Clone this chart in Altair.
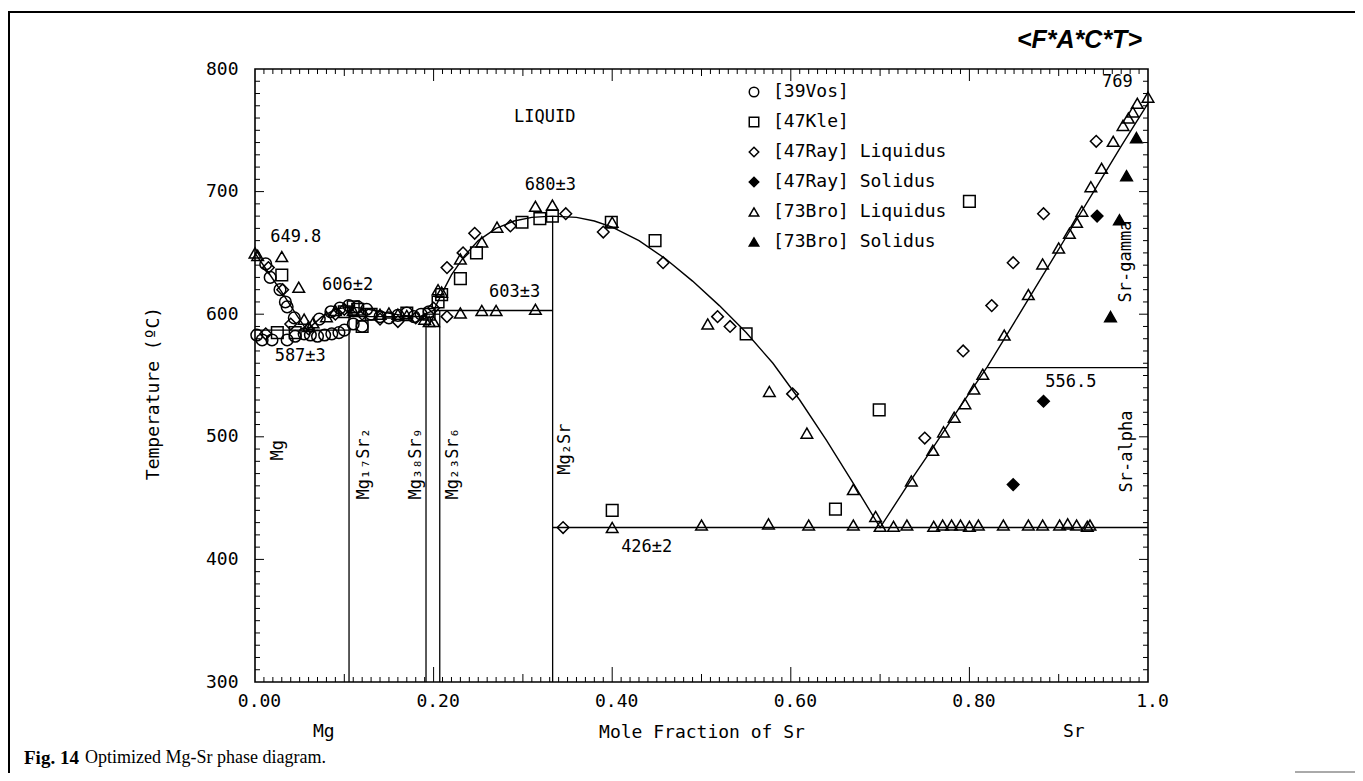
import altair as alt
import pandas as pd

W, H = 893, 613
MONO = "DejaVu Sans Mono"

# ---------------- data series ----------------
SERIES = ["[39Vos]", "[47Kle]", "[47Ray] Liquidus", "[47Ray] Solidus",
          "[73Bro] Liquidus", "[73Bro] Solidus"]
SHAPES = ["circle", "square", "diamond", "diamond", "triangle-up", "triangle-up"]
FILLS = ["transparent", "transparent", "transparent", "black", "transparent", "black"]
STROKES = ["black"] * 6

VOS_X = [0.002, 0.008, 0.019, 0.036, 0.045, 0.055, 0.062, 0.070, 0.078, 0.086, 0.094, 0.100,
         0.012, 0.017, 0.028, 0.034, 0.036, 0.044,
         0.072, 0.085, 0.095, 0.105, 0.115, 0.125, 0.130, 0.140, 0.150, 0.160, 0.170,
         0.178, 0.186, 0.195, 0.110, 0.120]
VOS_T = [583, 579, 579, 579, 582, 584, 583, 582, 583, 584, 585, 587,
         641, 630, 620, 610, 606, 597,
         596, 602, 605, 607, 606, 604, 600, 598, 597, 599, 601,
         598, 600, 602, 592, 590]

KLE_X = [0.030, 0.025, 0.045, 0.100, 0.110, 0.115, 0.120, 0.130, 0.170, 0.195, 0.205, 0.209,
         0.230, 0.248, 0.299, 0.319, 0.333, 0.399, 0.448, 0.400, 0.550, 0.650, 0.699, 0.800]
KLE_T = [632, 585, 585, 602, 606, 604, 590, 600, 601, 600, 610, 616,
         629, 650, 675, 678, 680, 675, 660, 440, 584, 441, 522, 692]

RAYL_X = [0.015, 0.031, 0.012, 0.040, 0.060, 0.090, 0.100, 0.120, 0.140, 0.160, 0.180, 0.200,
          0.215, 0.215, 0.233, 0.246, 0.286, 0.348, 0.390, 0.457, 0.518, 0.532, 0.602,
          0.750, 0.793, 0.825, 0.849, 0.883, 0.942, 0.345]
RAYL_T = [638, 620, 584, 592, 588, 600, 604, 600, 596, 594, 597, 605,
          598, 638, 650, 666, 672, 682, 667, 642, 598, 590, 535,
          499, 570, 607, 642, 682, 741, 426]

RAYS_X = [0.849, 0.883, 0.943]
RAYS_T = [461, 529, 680]

BROL_X = [0.000, 0.003, 0.030, 0.049, 0.055, 0.060, 0.065, 0.080, 0.090, 0.110, 0.140, 0.150,
          0.160, 0.170, 0.190, 0.195, 0.200, 0.205, 0.209, 0.230, 0.254, 0.270, 0.314,
          0.230, 0.254, 0.271, 0.314, 0.333, 0.400, 0.507, 0.576, 0.618, 0.670, 0.695,
          0.735, 0.759, 0.771, 0.783, 0.795, 0.805, 0.815, 0.839, 0.866, 0.882, 0.900,
          0.912, 0.920, 0.926, 0.936, 0.948, 0.961, 0.972, 0.978, 0.983, 0.988, 1.000,
          0.400, 0.500, 0.575, 0.620, 0.670, 0.700, 0.715, 0.730, 0.760, 0.770, 0.780,
          0.790, 0.800, 0.810, 0.838, 0.866, 0.882, 0.901, 0.910, 0.920, 0.932, 0.935]
BROL_T = [650, 648, 647, 622, 596, 590, 593, 598, 603, 603, 600, 601,
          600, 599, 596, 594, 594, 620, 618, 601, 603, 603, 604,
          645, 659, 671, 688, 689, 675, 592, 537, 503, 457, 435,
          464, 489, 504, 516, 527, 539, 551, 583, 616, 641, 654,
          666, 675, 684, 704, 719, 741, 754, 760, 765, 772, 777,
          426, 428, 429, 428, 428, 427, 427, 428, 427, 428, 428,
          428, 427, 428, 428, 428, 428, 428, 429, 428, 427, 428]

BROS_X = [0.958, 0.968, 0.976, 0.987]
BROS_T = [598, 677, 713, 744]

# calculated liquidus
LIQ_X = [0.000, 0.015, 0.030, 0.045, 0.058, 0.075, 0.090, 0.1053, 0.120, 0.140, 0.165, 0.185,
         0.190, 0.200, 0.210, 0.220, 0.235, 0.250, 0.270, 0.290, 0.310, 0.333, 0.360, 0.380,
         0.400, 0.430, 0.460, 0.490, 0.520, 0.550, 0.580, 0.610, 0.640, 0.670, 0.700,
         0.733, 0.760, 0.790, 0.820, 0.850, 0.880, 0.910, 0.940, 0.970, 1.000]
LIQ_T = [649.8, 634, 618, 601, 587, 598, 604, 606, 605, 602, 599, 598,
         600, 603, 618, 632, 648, 660, 670, 676, 679, 680, 679, 676,
         671, 660, 645, 627, 607, 585, 560, 530, 497, 462, 426,
         463, 492, 525, 557, 593, 629, 665, 701, 737, 772]

# invariant lines
ISO_X1 = [0.0, 0.1053, 0.190, 0.200, 0.3333, 0.820]
ISO_X2 = [0.1053, 0.1915, 0.2069, 0.3333, 1.0, 1.0]
ISO_T = [587, 598, 600, 603, 426, 556.5]

# compounds
COMP_X = [0.1053, 0.1915, 0.2069, 0.3333]
COMP_T = [606, 600, 603, 680]
COMP_BASE = [300, 300, 300, 300]

# annotations
ANN_TEXT = ["LIQUID", "649.8", "606\u00b12", "587\u00b13", "680\u00b13", "603\u00b13", "426\u00b12", "556.5"]
ANN_X = [0.290, 0.017, 0.075, 0.022, 0.302, 0.262, 0.410, 0.885]
ANN_T = [761, 663, 624, 566, 705, 618, 410, 545]
RANN_TEXT = ["769"]
RANN_X = [0.983]
RANN_T = [789]

VTXT = ["Mg", "Mg\u2081\u2087Sr\u2082", "Mg\u2083\u2088Sr\u2089", "Mg\u2082\u2083Sr\u2086",
        "Mg\u2082Sr", "Sr-gamma", "Sr-alpha"]
VX = [0.026, 0.122, 0.180, 0.222, 0.347, 0.975, 0.976]
VT = [489, 478, 478, 478, 490, 643, 488]

BOTTOM_TEXT = ["Mg", "Sr"]
BOTTOM_X = [0.077, 0.917]

X_TICKS = [0.0, 0.2, 0.4, 0.6, 0.8, 1.0]
Y_TICKS = [300, 400, 500, 600, 700, 800]

# ---------------- build tables ----------------
rows = []
for name, xs_, ts_ in zip(SERIES, [VOS_X, KLE_X, RAYL_X, RAYS_X, BROL_X, BROS_X],
                          [VOS_T, KLE_T, RAYL_T, RAYS_T, BROL_T, BROS_T]):
    for a, b in zip(xs_, ts_):
        rows.append({"x": a, "T": b, "series": name})
pts = pd.DataFrame(rows)

liq = pd.DataFrame({"x": LIQ_X, "T": LIQ_T, "i": range(len(LIQ_X))})
iso = pd.DataFrame({"x1": ISO_X1, "x2": ISO_X2, "T": ISO_T})
comp = pd.DataFrame({"x": COMP_X, "t1": COMP_BASE, "t2": COMP_T})
ann = pd.DataFrame({"x": ANN_X, "T": ANN_T, "txt": ANN_TEXT})
rann = pd.DataFrame({"x": RANN_X, "T": RANN_T, "txt": RANN_TEXT})
vlab = pd.DataFrame({"x": VX, "T": VT, "txt": VTXT})
blab = pd.DataFrame({"x": BOTTOM_X, "txt": BOTTOM_TEXT})

xs = alt.Scale(domain=[0, 1], nice=False, zero=False)
ys = alt.Scale(domain=[300, 800], nice=False, zero=False)


def X(f):
    return alt.X(f, type="quantitative", scale=xs)


def Y(f):
    return alt.Y(f, type="quantitative", scale=ys)


x_axis = alt.Axis(values=X_TICKS,
                  labelExpr="datum.value == 1 ? '1.0' : format(datum.value, '.2f')",
                  title="Mole Fraction of Sr", titleFont=MONO, titleFontSize=18,
                  titleFontWeight="normal", titleY=50, titleBaseline="middle",
                  titleColor="black",
                  labelFont=MONO, labelFontSize=18, labelColor="black", labelPadding=10,
                  labelOffset=4, labelFlush=False, labelOverlap=False,
                  ticks=False, tickSize=0, domain=False, grid=False)
y_axis = alt.Axis(values=Y_TICKS, title="Temperature  (\u00baC)", titleFont=MONO,
                  titleFontSize=18, titleFontWeight="normal", titleAngle=270,
                  titleX=-102, titleY=324, titleAlign="center", titleBaseline="middle",
                  titleColor="black",
                  labelFont=MONO, labelFontSize=18, labelColor="black", labelPadding=17,
                  labelOverlap=False, labelFlush=False,
                  ticks=False, tickSize=0, domain=False, grid=False)

liq_line = alt.Chart(liq).mark_line(color="black", strokeWidth=1.4).encode(
    x=alt.X("x:Q", scale=xs, axis=x_axis),
    y=alt.Y("T:Q", scale=ys, axis=y_axis),
    order="i:Q",
)

iso_rules = alt.Chart(iso).mark_rule(color="black", strokeWidth=1.3).encode(
    x=X("x1"), x2="x2", y=Y("T"))

comp_rules = alt.Chart(comp).mark_rule(color="black", strokeWidth=1.3).encode(
    x=X("x"), y=Y("t1"), y2="t2")

leg = alt.Legend(title=None, orient="none", legendX=490, legendY=14, padding=0,
                 labelFont=MONO, labelFontSize=18, labelColor="black", labelLimit=400,
                 symbolSize=90, symbolStrokeWidth=1.5, symbolStrokeColor="black",
                 rowPadding=12, labelOffset=10)

points = alt.Chart(pts).mark_point(strokeWidth=1.5, size=135, opacity=1).encode(
    x=X("x"), y=Y("T"),
    shape=alt.Shape("series:N", scale=alt.Scale(domain=SERIES, range=SHAPES), legend=leg),
    fill=alt.Fill("series:N", scale=alt.Scale(domain=SERIES, range=FILLS), legend=leg),
    stroke=alt.Stroke("series:N", scale=alt.Scale(domain=SERIES, range=STROKES), legend=leg),
)

ann_l = alt.Chart(ann).mark_text(font=MONO, fontSize=17, align="left", baseline="middle",
                                 color="black").encode(x=X("x"), y=Y("T"), text="txt:N")
ann_r = alt.Chart(rann).mark_text(font=MONO, fontSize=17, align="right", baseline="middle",
                                  color="black").encode(x=X("x"), y=Y("T"), text="txt:N")
vtext = alt.Chart(vlab).mark_text(font=MONO, fontSize=17, align="center", baseline="middle",
                                  angle=270, color="black").encode(x=X("x"), y=Y("T"), text="txt:N")
btext = alt.Chart(blab).mark_text(font=MONO, fontSize=18, align="center", baseline="middle",
                                  color="black").encode(x=X("x"), y=alt.value(H + 50), text="txt:N")

# inward axis ticks (minor / medium / major)
XT_MINOR = [i / 100 for i in range(1, 100) if i % 10 != 0]
XT_MED = [0.1, 0.3, 0.5, 0.7, 0.9]
XT_MAJOR = [0.2, 0.4, 0.6, 0.8]
YT_MINOR = [v for v in range(310, 800, 10) if v % 100 != 0]
YT_MAJOR = [400, 500, 600, 700]


def xticks(vals, L, top):
    y0, y1 = (0, L) if top else (H, H - L)
    return alt.Chart(pd.DataFrame({"v": vals})).mark_rule(color="black", strokeWidth=1).encode(
        x=X("v"), y=alt.value(y0), y2=alt.value(y1))


def yticks(vals, L, right):
    x0, x1 = (W, W - L) if right else (0, L)
    return alt.Chart(pd.DataFrame({"v": vals})).mark_rule(color="black", strokeWidth=1).encode(
        y=Y("v"), x=alt.value(x0), x2=alt.value(x1))


ticks = [xticks(XT_MINOR, 5, False), xticks(XT_MED, 8, False), xticks(XT_MAJOR, 15, False),
         xticks(XT_MINOR, 5, True), xticks(XT_MED, 7, True), xticks(XT_MAJOR, 12, True),
         yticks(YT_MINOR, 5, False), yticks(YT_MAJOR, 9, False),
         yticks(YT_MINOR, 5, True), yticks(YT_MAJOR, 9, True)]

# page decorations: frame, logo, caption
deco = pd.DataFrame({"k": [0]})
frame_top = alt.Chart(deco).mark_rule(color="black", strokeWidth=2).encode(
    x=alt.value(-247), x2=alt.value(1100), y=alt.value(-57))
frame_left = alt.Chart(deco).mark_rule(color="black", strokeWidth=2).encode(
    x=alt.value(-246), y=alt.value(-57), y2=alt.value(704))
stub = alt.Chart(deco).mark_rule(color="#555", strokeWidth=1).encode(
    x=alt.value(1040), x2=alt.value(1100), y=alt.value(703))
logo = alt.Chart(pd.DataFrame({"txt": ["<F*A*C*T>"]})).mark_text(
    font="Liberation Sans", fontSize=25, fontStyle="italic", fontWeight="bold",
    align="right", baseline="middle", color="black").encode(
    x=alt.value(887), y=alt.value(-29), text="txt:N")
cap1 = alt.Chart(pd.DataFrame({"txt": ["Fig. 14"]})).mark_text(
    font="Liberation Serif", fontSize=19, fontWeight="bold", align="left",
    baseline="middle", color="black").encode(x=alt.value(-231), y=alt.value(689), text="txt:N")
cap2 = alt.Chart(pd.DataFrame({"txt": ["Optimized Mg-Sr phase diagram."]})).mark_text(
    font="Liberation Serif", fontSize=18, align="left", baseline="middle",
    color="black").encode(x=alt.value(-170), y=alt.value(689), text="txt:N")

chart = alt.layer(
    liq_line, iso_rules, comp_rules, *ticks, points, ann_l, ann_r, vtext, btext,
    frame_top, frame_left, stub, logo, cap1, cap2
).properties(
    width=W, height=H,
    padding={"left": 247, "top": 61, "right": 207, "bottom": 91},
    autosize=alt.AutoSizeParams(type="none"),
    background="white",
).configure_view(stroke="black", strokeWidth=1.6)

chart.save("out.html", embed_options={"renderer": "svg", "actions": False})
